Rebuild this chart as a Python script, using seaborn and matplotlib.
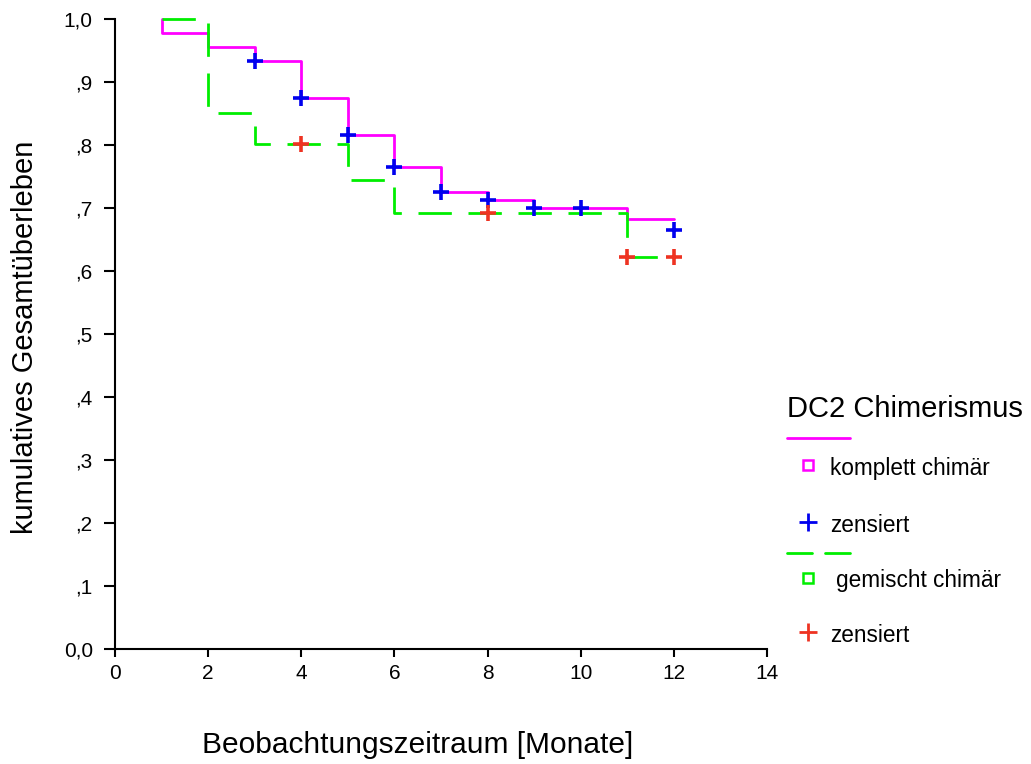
import numpy as np
import pandas as pd
import seaborn as sns
import matplotlib
matplotlib.use("Agg")
import matplotlib.pyplot as plt
from matplotlib.lines import Line2D

# ---- data ----
komplett_t = [1, 1, 2, 3, 4, 5, 6, 7, 8, 9, 11, 12]
komplett_s = [1.0, 0.977, 0.955, 0.933, 0.874, 0.816, 0.765, 0.725, 0.712, 0.700, 0.683, 0.683]
gemischt_t = [1, 2, 3, 5, 6, 11, 12]
gemischt_s = [1.0, 0.851, 0.801, 0.745, 0.692, 0.622, 0.622]
komplett_cens_t = [3, 4, 5, 6, 7, 8, 9, 10, 12]
komplett_cens_s = [0.933, 0.874, 0.816, 0.765, 0.725, 0.712, 0.700, 0.700, 0.665]
gemischt_cens_t = [4, 8, 11, 12]
gemischt_cens_s = [0.801, 0.692, 0.622, 0.622]
x_ticks = [0, 2, 4, 6, 8, 10, 12, 14]
y_ticks = [0.0, 0.1, 0.2, 0.3, 0.4, 0.5, 0.6, 0.7, 0.8, 0.9, 1.0]
y_ticklabels = ["0,0", ",1", ",2", ",3", ",4", ",5", ",6", ",7", ",8", ",9", "1,0"]

sns.set_style("white")
plt.rcParams['font.family'] = ['Liberation Sans', 'DejaVu Sans']
plt.rcParams['text.color'] = 'black'
plt.rcParams['xtick.color'] = 'black'
plt.rcParams['ytick.color'] = 'black'

MAG = "#FF00FF"
GRN = "#00EE00"
BLU = "#0000EE"
RED = "#EE3322"

W, H = 1031, 764
fig = plt.figure(figsize=(W / 100, H / 100), dpi=100)
ax = fig.add_axes([115 / W, 1 - 649 / H, (767 - 115) / W, (649 - 19) / H])

df_k = pd.DataFrame({"t": komplett_t, "s": komplett_s})
df_g = pd.DataFrame({"t": gemischt_t, "s": gemischt_s})
sns.lineplot(data=df_k, x="t", y="s", estimator=None, sort=False, ax=ax,
             color=MAG, lw=2, drawstyle="steps-post", clip_on=False)
sns.lineplot(data=df_g, x="t", y="s", estimator=None, sort=False, ax=ax,
             color=GRN, lw=2, drawstyle="steps-post", clip_on=False)
ax.lines[-1].set_dashes([12, 6])

df_kc = pd.DataFrame({"t": komplett_cens_t, "s": komplett_cens_s})
df_gc = pd.DataFrame({"t": gemischt_cens_t, "s": gemischt_cens_s})
sns.scatterplot(data=df_kc, x="t", y="s", ax=ax, marker="+", color=BLU,
                s=140, linewidth=2.6, zorder=5, clip_on=False)
sns.scatterplot(data=df_gc, x="t", y="s", ax=ax, marker="+", color=RED,
                s=140, linewidth=2.6, zorder=5, clip_on=False)

ax.set_xlim(0, 14)
ax.set_ylim(0, 1.0)
ax.set_xticks(x_ticks)
ax.set_xticklabels([str(v) for v in x_ticks], fontsize=15)
ax.set_yticks(y_ticks)
ax.set_yticklabels(y_ticklabels, fontsize=15)
ax.tick_params(axis="x", direction="out", length=6, width=1.5, pad=5, bottom=True)
ax.tick_params(axis="y", direction="out", length=8, width=1.5, pad=8, left=True)
for sp in ["top", "right"]:
    ax.spines[sp].set_visible(False)
for sp in ["left", "bottom"]:
    ax.spines[sp].set_linewidth(1.5)
    ax.spines[sp].set_color("black")
ax.set_xlabel("")
ax.set_ylabel("")

fig.text(418 / W, 1 - 745 / H, "Beobachtungszeitraum [Monate]", ha="center", va="center", fontsize=21.5)
fig.text(25 / W, 1 - 337 / H, "kumulatives Gesamtüberleben", ha="center", va="center",
         rotation=90, fontsize=21)

# ---- legend drawn manually ----
def fx(px):
    return px / W

def fy(py):
    return 1 - py / H

fig.text(fx(787), fy(409), "DC2 Chimerismus", ha="left", va="center", fontsize=21)
fig.add_artist(Line2D([fx(787), fx(850)], [fy(438), fy(438)], color=MAG, lw=2))
fig.add_artist(Line2D([fx(808)], [fy(465)], marker="s", ms=7, mfc="none", mec=MAG, mew=1.8, ls="none"))
fig.text(fx(830), fy(468), "komplett chimär", ha="left", va="center", fontsize=16.3)
fig.add_artist(Line2D([fx(808)], [fy(522)], marker="+", ms=13, mec=BLU, mew=2, ls="none"))
fig.text(fx(830), fy(525), "zensiert", ha="left", va="center", fontsize=16.3)
fig.add_artist(Line2D([fx(787), fx(812)], [fy(553), fy(553)], color=GRN, lw=2))
fig.add_artist(Line2D([fx(825), fx(850)], [fy(553), fy(553)], color=GRN, lw=2))
fig.add_artist(Line2D([fx(808)], [fy(578)], marker="s", ms=7, mfc="none", mec=GRN, mew=1.8, ls="none"))
fig.text(fx(836), fy(581), "gemischt chimär", ha="left", va="center", fontsize=16.3)
fig.add_artist(Line2D([fx(808)], [fy(632)], marker="+", ms=13, mec=RED, mew=2, ls="none"))
fig.text(fx(830), fy(636), "zensiert", ha="left", va="center", fontsize=16.3)

fig.savefig("out.png", dpi=100)
